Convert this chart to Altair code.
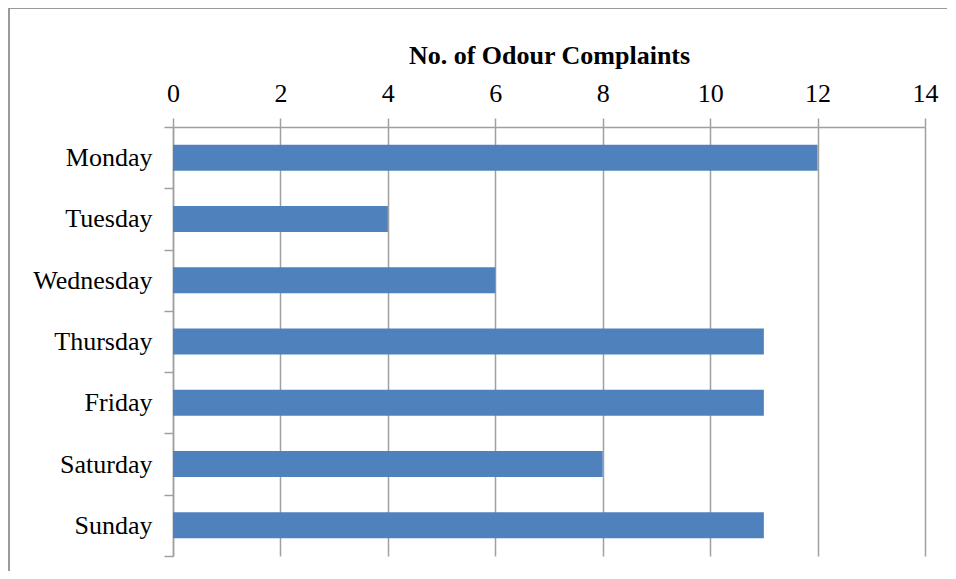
import altair as alt
import pandas as pd

days = ["Monday", "Tuesday", "Wednesday", "Thursday", "Friday", "Saturday", "Sunday"]
complaints = [12, 4, 6, 11, 11, 8, 11]
x_ticks = [0, 2, 4, 6, 8, 10, 12, 14]

df = pd.DataFrame({"day": days, "complaints": complaints})

FONT = "Liberation Serif"
GRAY = "#a0a0a0"
W, H = 752, 429

bars = alt.Chart(df).mark_bar(color="#4F81BD", size=26).encode(
    x=alt.X(
        "complaints:Q",
        scale=alt.Scale(domain=[0, 14], nice=False),
        axis=alt.Axis(
            orient="top",
            values=x_ticks,
            title="No. of Odour  Complaints",
            titleFont=FONT,
            titleFontSize=26,
            titleFontWeight="bold",
            titleColor="#000000",
            titlePadding=12,
            labelFont=FONT,
            labelFontSize=26,
            labelColor="#000000",
            labelPadding=12,
            labelFlush=False,
            tickSize=9,
            tickColor=GRAY,
            tickWidth=1.5,
            domainColor=GRAY,
            domainWidth=1.5,
            grid=True,
            gridColor=GRAY,
            gridWidth=1.5,
        ),
    ),
    y=alt.Y(
        "day:N",
        sort=days,
        scale=alt.Scale(paddingInner=0, paddingOuter=0),
        axis=alt.Axis(
            title=None,
            tickBand="extent",
            labelFont=FONT,
            labelFontSize=26,
            labelColor="#000000",
            labelPadding=12,
            tickSize=9,
            tickColor=GRAY,
            tickWidth=1.5,
            domainColor=GRAY,
            domainWidth=1.5,
            grid=False,
        ),
    ),
)

frame_src = pd.DataFrame({"f": [0]})
frame_top = alt.Chart(frame_src).mark_rule(
    stroke="#9a9a9a", strokeWidth=2, clip=False
).encode(x=alt.value(-164), x2=alt.value(800), y=alt.value(-119))
frame_left = alt.Chart(frame_src).mark_rule(
    stroke="#9a9a9a", strokeWidth=2, clip=False
).encode(x=alt.value(-164), y=alt.value(-119), y2=alt.value(470))

chart = alt.layer(frame_top, frame_left, bars).properties(
    width=W,
    height=H,
    padding={"left": 165, "top": 119, "right": 22, "bottom": 15},
    autosize=alt.AutoSizeParams(type="none"),
).configure_view(stroke=None)

chart.save("out.html", embed_options={"renderer": "svg", "actions": False})
